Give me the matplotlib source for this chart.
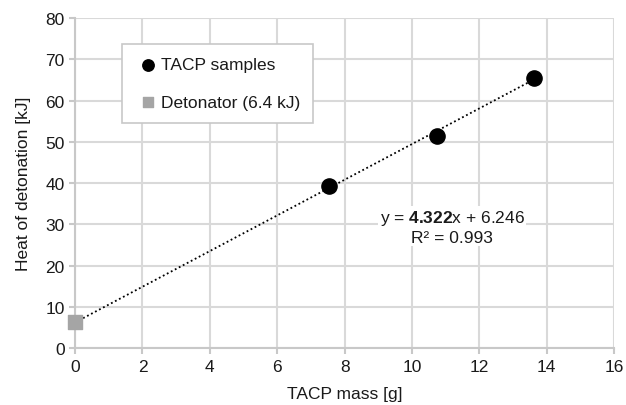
import numpy as np
import matplotlib.pyplot as plt

plt.rcParams['font.family'] = ['Liberation Sans', 'DejaVu Sans']
plt.rcParams['mathtext.fontset'] = 'custom'
plt.rcParams['mathtext.rm'] = 'Liberation Sans'
plt.rcParams['mathtext.bf'] = 'Liberation Sans:bold'

# data
tacp_mass = [7.55, 10.75, 13.62]
tacp_heat = [39.3, 51.4, 65.45]
det_mass = [0.0]
det_heat = [6.4]
slope, intercept, r2 = 4.322, 6.246, 0.993
fit_x = [0.0, 13.62]

fig = plt.figure(figsize=(6.26, 4.06), dpi=100)
ax = fig.add_axes([0.12, 0.14, 0.861, 0.813])

fs = 12.5
grid_c = '#d9d9d9'
ax.set_xlim(0, 16)
ax.set_ylim(0, 80)
ax.set_xticks(np.arange(0, 17, 2))
ax.set_yticks(np.arange(0, 81, 10))
ax.grid(True, color=grid_c, lw=1.5)
ax.set_axisbelow(True)
for s in ['top', 'right']:
    ax.spines[s].set_visible(False)
for s in ['left', 'bottom']:
    ax.spines[s].set_color('#c8c8c8')
    ax.spines[s].set_linewidth(1.5)
ax.tick_params(colors='#c8c8c8', length=4, width=1.5, labelcolor='#1a1a1a', labelsize=fs)

fx = np.array(fit_x)
ax.plot(fx, slope * fx + intercept, ls=(0, (1, 1.5)), color='black', lw=1.3, zorder=2)
ax.scatter(tacp_mass, tacp_heat, s=120, color='black', zorder=3, label='TACP samples')
ax.scatter(det_mass, det_heat, s=110, marker='s', color='#a5a5a5', zorder=3,
           clip_on=False, label='Detonator (6.4 kJ)')

ax.text(11.2, 31.7, 'y = $\\mathbf{4.322}$x + 6.246', ha='center', va='center', fontsize=fs,
        color='#1a1a1a', bbox=dict(facecolor='white', edgecolor='none', pad=1))
ax.text(11.2, 26.9, f'R² = {r2}', ha='center', va='center', fontsize=fs,
        color='#1a1a1a', bbox=dict(facecolor='white', edgecolor='none', pad=1))

leg = ax.legend(loc='upper left', bbox_to_anchor=(0.087, 0.921), fancybox=False, framealpha=1,
                edgecolor='#c8c8c8', fontsize=fs, handletextpad=0.0, handlelength=1.5,
                borderpad=0.75, labelspacing=1.3, borderaxespad=0, markerscale=0.75)
leg.get_frame().set_linewidth(1.2)
for t in leg.get_texts():
    t.set_color('#1a1a1a')

ax.set_xlabel('TACP mass [g]', fontsize=fs, labelpad=9, color='#1a1a1a')
ax.set_ylabel('Heat of detonation [kJ]', fontsize=fs, labelpad=10, color='#1a1a1a')

fig.savefig('out.png', dpi=100)
